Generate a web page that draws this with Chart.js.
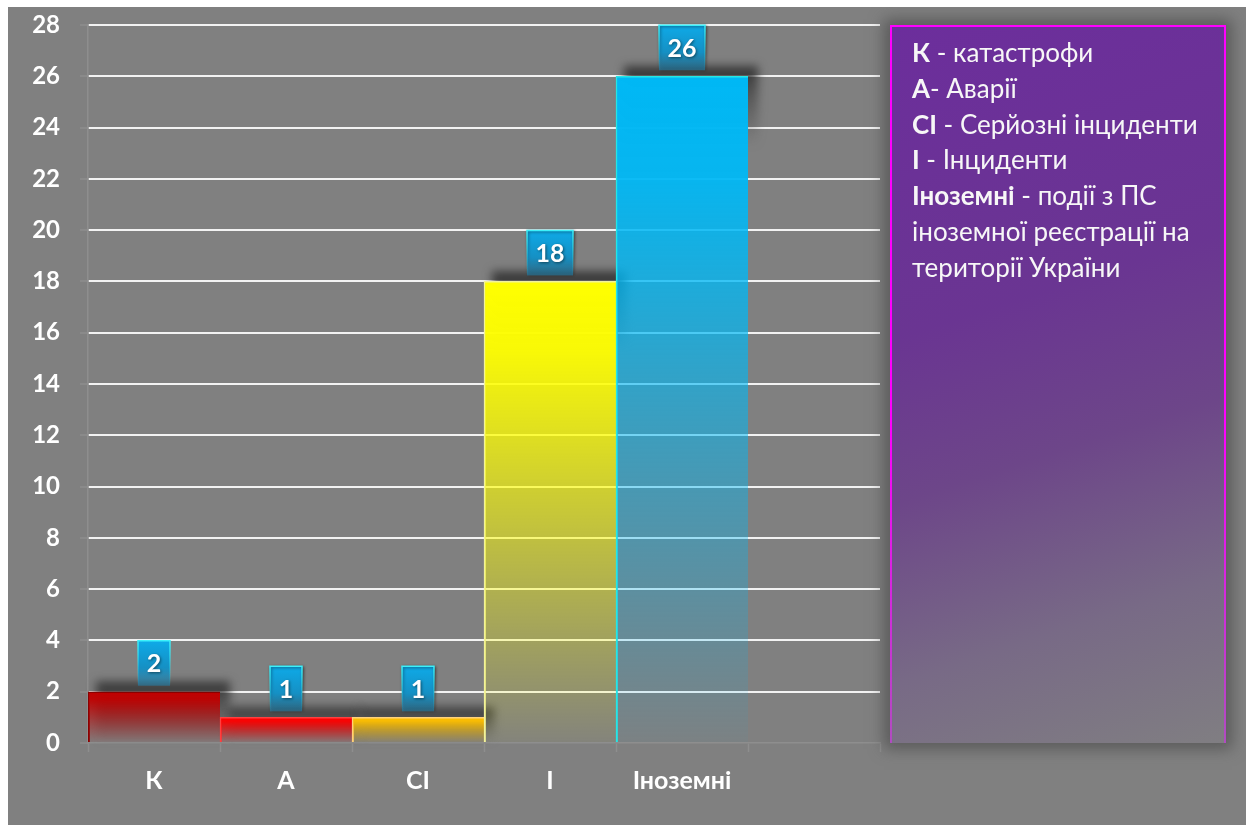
<!DOCTYPE html>
<html lang="uk">
<head>
<meta charset="utf-8">
<title>Події з ПС</title>
<script src="https://cdn.jsdelivr.net/npm/chart.js@4.4.1/dist/chart.umd.min.js"></script>
<style>
  html, body { margin: 0; padding: 0; background: #ffffff; }
  #frame {
    position: absolute; left: 8px; top: 7px; width: 1238px; height: 818px;
    background: #808080; overflow: hidden;
  }
  #chart { position: absolute; left: 0; top: 0; }
  #note {
    position: absolute; left: 882px; top: 18px; width: 336px; height: 718px;
    border-style: solid; border-width: 2px 2px 0 2px;
    border-image: linear-gradient(to bottom, #ff00ff 0%, #ff00ff 55%, #b04cc0 100%) 1;
    background: linear-gradient(162deg, #6c2e9c 0%, #6a3592 38%, #6d4689 58%, #786a86 80%, #807e82 100%);
    box-shadow: 0 0 14px 6px rgba(65,65,65,0.6);
    color: #f7f7f7;
    font-family: Lato, "Open Sans", sans-serif;
    font-size: 26px; line-height: 35.8px;
    padding: 8px 0 0 20px; box-sizing: border-box;
  }
  #note b { font-weight: 700; }
  #note div { white-space: nowrap; }
</style>
</head>
<body>
<div id="frame">
  <canvas id="chart" width="1238" height="818"></canvas>
  <div id="note">
    <div><b>К</b> - катастрофи</div>
    <div><b>А</b>- Аварії</div>
    <div><b>СІ</b> - Серйозні інциденти</div>
    <div><b>І</b> - Інциденти</div>
    <div><b>Іноземні</b> - події з ПС</div>
    <div>іноземної реєстрації на</div>
    <div>території України</div>
  </div>
</div>
<script>
// Event counts by category; the last slot is left empty on the axis
const categories = ['К', 'А', 'СІ', 'І', 'Іноземні', ''];
const eventCounts = [2, 1, 1, 18, 26, null];
const barColors = ['#c00000', '#ff0000', '#ffc000', '#ffff00', '#00b8f5', '#808080'];
const edgeColors = ['#8a0000', '#ff4040', '#ffd27a', '#f2f29a', '#25e6e6', '#808080'];
const yTicks = { min: 0, max: 28, step: 2 };

const FONT = 'Lato, "Open Sans", sans-serif';

function hexToRgb(h) {
  const n = parseInt(h.slice(1), 16);
  return [(n >> 16) & 255, (n >> 8) & 255, n & 255];
}

function barFill(ctx) {
  const chart = ctx.chart;
  const area = chart.chartArea;
  if (!area) return barColors[ctx.dataIndex];
  const v = ctx.raw;
  if (v == null) return 'rgba(0,0,0,0)';
  const ys = chart.scales.y;
  const top = ys.getPixelForValue(v);
  const base = ys.getPixelForValue(0);
  const [r, g, b] = hexToRgb(barColors[ctx.dataIndex]);
  const grad = chart.ctx.createLinearGradient(0, top, 0, base);
  grad.addColorStop(0, `rgba(${r},${g},${b},1)`);
  grad.addColorStop(0.15, `rgba(${r},${g},${b},0.95)`);
  grad.addColorStop(0.6, `rgba(${r},${g},${b},0.45)`);
  grad.addColorStop(1, `rgba(${r},${g},${b},0.03)`);
  return grad;
}

// Dark blurred shadow cast above and to the right of each bar
const barShadow = {
  id: 'barShadow',
  beforeDatasetsDraw(chart) {
    const c = chart.ctx;
    const meta = chart.getDatasetMeta(0);
    const data = chart.data.datasets[0].data;
    c.save();
    c.filter = 'blur(5px)';
    meta.data.forEach((bar, i) => {
      if (data[i] == null) return;
      const left = bar.x - bar.width / 2;
      const top = bar.y;
      const h = Math.min(bar.base - bar.y, 70);
      const g = c.createLinearGradient(0, top - 10, 0, top + h);
      g.addColorStop(0, 'rgba(35,35,35,0.85)');
      g.addColorStop(0.35, 'rgba(50,50,50,0.55)');
      g.addColorStop(1, 'rgba(60,60,60,0)');
      c.fillStyle = g;
      c.fillRect(left + 8, top - 10, bar.width + 2, h + 10);
    });
    c.restore();
  }
};

// Blue value badges above each bar
const valueBadges = {
  id: 'valueBadges',
  afterDatasetsDraw(chart) {
    const c = chart.ctx;
    const meta = chart.getDatasetMeta(0);
    const data = chart.data.datasets[0].data;
    c.save();
    c.font = 'bold 25px ' + FONT;
    meta.data.forEach((bar, i) => {
      const v = data[i];
      if (v == null) return;
      const text = String(v);
      const w = Math.round(c.measureText(text).width + 17);
      const h = 45;
      const x = bar.x - w / 2;
      const bottom = bar.y - 6;
      const top = bottom - h;
      const g = c.createLinearGradient(0, top, 0, bottom);
      g.addColorStop(0, '#0eaae8');
      g.addColorStop(0.6, '#1590c4');
      g.addColorStop(1, 'rgba(30,130,175,0.55)');
      c.fillStyle = g;
      c.fillRect(x, top, w, h);
      const s = c.createLinearGradient(0, top, 0, bottom);
      s.addColorStop(0, 'rgba(60,240,250,1)');
      s.addColorStop(0.6, 'rgba(60,240,250,0.35)');
      s.addColorStop(1, 'rgba(60,240,250,0)');
      c.strokeStyle = s;
      c.lineWidth = 1.5;
      c.beginPath();
      c.moveTo(x, bottom); c.lineTo(x, top); c.lineTo(x + w, top); c.lineTo(x + w, bottom);
      c.stroke();
      c.fillStyle = '#ffffff';
      c.textAlign = 'center';
      c.textBaseline = 'middle';
      c.shadowColor = 'rgba(0,0,0,0.5)';
      c.shadowBlur = 3;
      c.shadowOffsetX = 1;
      c.shadowOffsetY = 1;
      c.fillText(text, bar.x, top + h / 2 + 1);
    });
    c.restore();
  }
};

new Chart(document.getElementById('chart'), {
  type: 'bar',
  data: {
    labels: categories,
    datasets: [{
      data: eventCounts,
      backgroundColor: barFill,
      borderColor: edgeColors,
      borderWidth: { top: 1.5, left: 1.5, right: 0, bottom: 0 },
      borderSkipped: false,
      barPercentage: 1,
      categoryPercentage: 1
    }]
  },
  options: {
    responsive: false,
    animation: false,
    events: [],
    layout: { padding: { left: 0, top: 18, right: 366, bottom: 0 } },
    plugins: { legend: { display: false }, tooltip: { enabled: false } },
    scales: {
      x: {
        afterFit(scale) { scale.height = 82; },
        grid: {
          drawOnChartArea: false, drawTicks: true, tickLength: 9,
          tickColor: '#8e8e8e', tickWidth: 1.5
        },
        border: { color: '#8e8e8e', width: 1.5 },
        ticks: {
          color: '#ffffff', padding: 14,
          font: { family: FONT, size: 25, weight: 'bold' }
        }
      },
      y: {
        min: yTicks.min, max: yTicks.max,
        afterFit(scale) {
          scale.width = 80;
          // the top label may overhang the plot; keep the plot top fixed
          scale.paddingTop = 0;
          scale.paddingBottom = 0;
        },
        grid: {
          color: (ctx) => ctx.tick && ctx.tick.value === 0 ? 'rgba(0,0,0,0)' : '#f2f2f2',
          lineWidth: 2, drawTicks: true, tickLength: 8, tickColor: '#8e8e8e', tickWidth: 1.5
        },
        border: { color: '#8e8e8e', width: 1.5 },
        ticks: {
          stepSize: yTicks.step, color: '#ffffff', padding: 20,
          font: { family: FONT, size: 24, weight: 'bold' }
        }
      }
    }
  },
  plugins: [barShadow, valueBadges]
});
</script>
</body>
</html>
